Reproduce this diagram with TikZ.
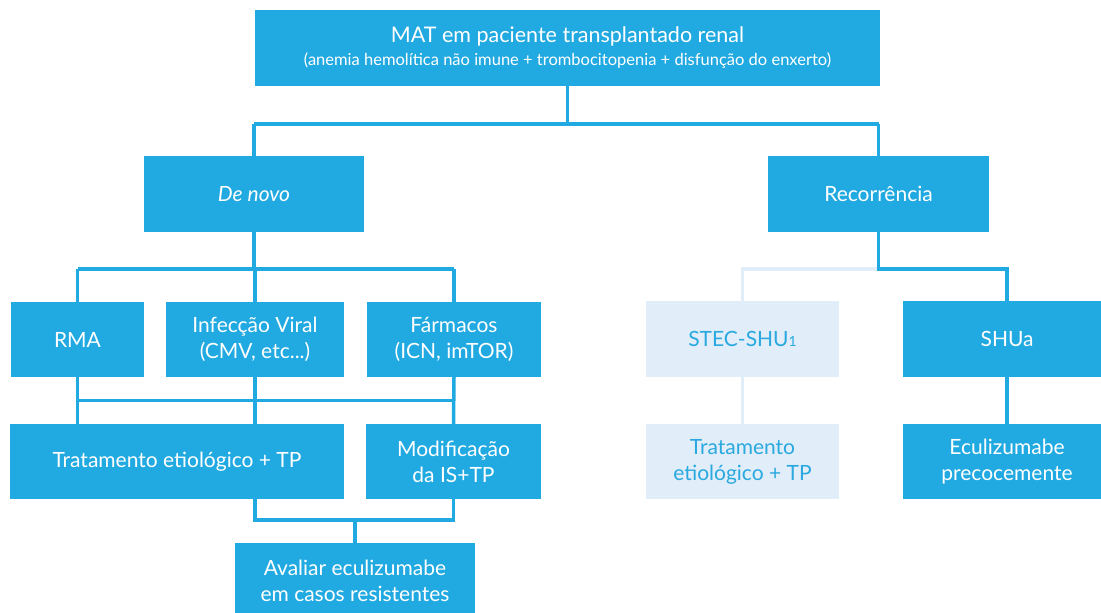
\documentclass[tikz,border=0pt]{standalone}
\usepackage{fontspec}
\setmainfont{Lato}
\usetikzlibrary{calc}
\definecolor{cblue}{RGB}{33,169,225}
\definecolor{clight}{RGB}{225,237,248}
\definecolor{cltext}{RGB}{41,169,224}
\tikzset{
  box/.style={fill=cblue, text=white, align=center, inner sep=0pt,
    font=\fontsize{21}{26}\selectfont},
  lbox/.style={box, fill=clight, text=cltext},
  conn/.style={draw=cblue, line width=3.5pt},
  lconn/.style={draw=clight, line width=3.5pt}
}
\begin{document}
\begin{tikzpicture}[x=1pt,y=-1pt]
\useasboundingbox (0,0) rectangle (1101,613);
\clip (0,0) rectangle (1101,613);
\node[box, minimum width=625, minimum height=76] (top) at (567.5,48)
  {{\fontsize{21.5}{24}\selectfont MAT em paciente transplantado renal}\\[-3pt]
   {\fontsize{16.5}{19}\selectfont (anemia hemolítica não imune + trombocitopenia + disfunção do enxerto)}};
\node[box, minimum width=220, minimum height=76] (denovo) at (254,194) {\itshape De novo};
\node[box, minimum width=221, minimum height=76] (recorr) at (878.5,194) {Recorrência};
\node[box, minimum width=133, minimum height=75] (rma) at (77.5,339.5) {RMA};
\node[box, minimum width=178, minimum height=75] (infec) at (255,339.5) {Infecção Viral\\(CMV, etc...)};
\node[box, minimum width=174, minimum height=75] (farm) at (454,339.5) {Fármacos\\(ICN, imTOR)};
\node[box, minimum width=334, minimum height=75] (trat) at (177,461.5) {Tratamento etiológico + TP};
\node[box, minimum width=175, minimum height=75] (modif) at (453.5,461.5) {Modificação\\da IS+TP};
\node[box, minimum width=240, minimum height=76] (aval) at (355,581) {Avaliar eculizumabe\\em casos resistentes};
\node[lbox, minimum width=193, minimum height=76] (stec) at (742.5,339) {STEC-SHU{\fontsize{14}{14}\selectfont 1}};
\node[box, minimum width=208, minimum height=76] (shua) at (1007,339) {SHUa};
\node[lbox, minimum width=193, minimum height=75] (tratl) at (742.5,461.5) {Tratamento\\etiológico + TP};
\node[box, minimum width=208, minimum height=75] (ecul) at (1007,461.5) {Eculizumabe\\precocemente};
% connectors
\draw[conn] (top.south) -- ++(0,38) coordinate (j0);
\draw[conn] (j0 -| denovo.north) -- (j0 -| recorr.north);
\draw[conn] (j0 -| denovo.north) -- (denovo.north);
\draw[conn] (j0 -| recorr.north) -- (recorr.north);
% de novo branch
\draw[conn] (denovo.south) -- ++(0,37) coordinate (j1);
\draw[conn] (j1 -| rma.north) -- (j1 -| farm.north);
\draw[conn] (j1 -| rma.north) -- (rma.north);
\draw[conn] (j1 -| infec.north) -- (infec.north);
\draw[conn] (j1 -| farm.north) -- (farm.north);
\draw[conn] (rma.south) -- (rma.south |- trat.north);
\draw[conn] (infec.south) -- (infec.south |- trat.north);
\draw[conn] (farm.south) -- (modif.north);
\path (rma.south) -- (rma.south |- trat.north) coordinate[pos=.5] (b1);
\draw[conn] (b1) -- (b1 -| farm.south);
\draw[conn] (infec.south |- trat.south) -- ++(0,21) coordinate (b2) -- (b2 -| modif.south) -- (modif.south);
\draw[conn] (aval.north) -- (aval.north |- b2);
% recorrencia branch
\draw[lconn] (recorr.south |- j1) -| (stec.north);
\draw[lconn] (stec.south) -- (tratl.north);
\draw[conn] (recorr.south) -- (recorr.south |- j1) -| (shua.north);
\draw[conn] (shua.south) -- (ecul.north);
\end{tikzpicture}
\end{document}
